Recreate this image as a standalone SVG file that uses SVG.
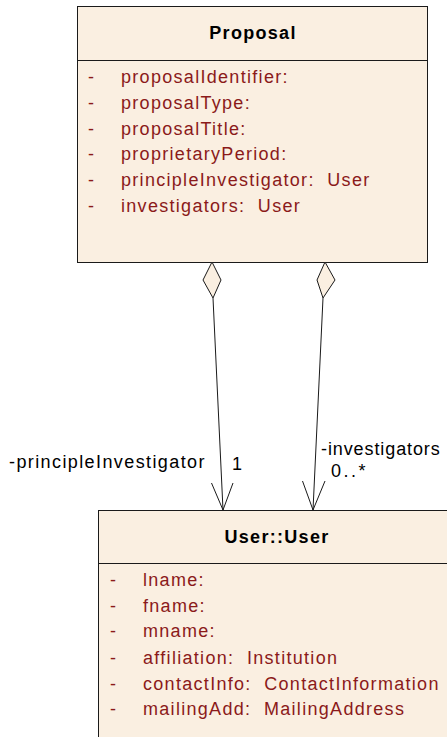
<svg xmlns="http://www.w3.org/2000/svg" width="447" height="737" viewBox="0 0 447 737">
<style>
.box{fill:#FAEFE1;stroke:#1a1a1a;stroke-width:1}
.div{stroke:#1a1a1a;stroke-width:1}
.title{font-family:"Liberation Sans",Arial,sans-serif;font-weight:bold;font-size:18px;letter-spacing:1.3px;fill:#000;text-anchor:middle}
.attr{font-family:"Liberation Sans",Arial,sans-serif;font-size:18px;letter-spacing:1.3px;fill:#8B1A1A;white-space:pre}
.lbl{font-family:"Liberation Sans",Arial,sans-serif;font-size:18px;letter-spacing:1.4px;fill:#000}
.edge{stroke:#1a1a1a;stroke-width:1;fill:none}
.dia{fill:#FAEFE1;stroke:#1a1a1a;stroke-width:1}
</style>
<rect width="447" height="737" fill="#fff"/>
<g id="Proposal">
<rect class="box" x="77.5" y="6.5" width="350" height="256"/>
<line class="div" x1="77.5" y1="60.5" x2="427.5" y2="60.5"/>
<text class="title" x="253" y="39">Proposal</text>
<g class="attr">
<text x="88" y="83">-</text><text x="121" y="83">proposalIdentifier:</text>
<text x="88" y="109">-</text><text x="121" y="109">proposalType:</text>
<text x="88" y="135">-</text><text x="121" y="135">proposalTitle:</text>
<text x="88" y="160">-</text><text x="121" y="160">proprietaryPeriod:</text>
<text x="88" y="186">-</text><text x="121" y="186" xml:space="preserve">principleInvestigator:  User</text>
<text x="88" y="212">-</text><text x="121" y="212" xml:space="preserve">investigators:  User</text>
</g>
</g>
<g id="User">
<rect class="box" x="98.5" y="510.5" width="360" height="240"/>
<line class="div" x1="98.5" y1="563.5" x2="458" y2="563.5"/>
<text class="title" x="277" y="543">User::User</text>
<g class="attr">
<text x="110" y="586">-</text><text x="143" y="586">lname:</text>
<text x="110" y="612">-</text><text x="143" y="612">fname:</text>
<text x="110" y="637">-</text><text x="143" y="637">mname:</text>
<text x="110" y="664">-</text><text x="143" y="664" xml:space="preserve">affiliation:  Institution</text>
<text x="110" y="690">-</text><text x="143" y="690" xml:space="preserve">contactInfo:  ContactInformation</text>
<text x="110" y="715">-</text><text x="143" y="715" xml:space="preserve">mailingAdd:  MailingAddress</text>
</g>
</g>
<g id="connectors">
<polygon class="dia" points="212,262 203,280 213,298 221,280"/>
<line class="edge" x1="213" y1="298" x2="223" y2="510"/>
<polyline class="edge" points="211.5,483 223,510 233,483"/>
<polygon class="dia" points="325,262 317,280 323,298 335,280"/>
<line class="edge" x1="323" y1="298" x2="313" y2="510"/>
<polyline class="edge" points="302.5,481 313,510 325,481"/>
<text class="lbl" x="9" y="468">-principleInvestigator</text>
<text class="lbl" x="232" y="470">1</text>
<text class="lbl" x="321" y="455" style="letter-spacing:0.9px">-investigators</text>
<text class="lbl" x="331" y="477" style="letter-spacing:2.5px">0..*</text>
</g>
</svg>
